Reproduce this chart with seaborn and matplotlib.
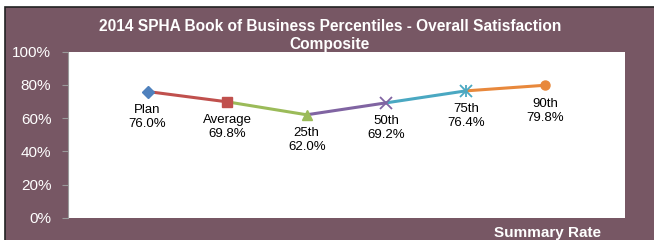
import matplotlib
matplotlib.use("Agg")
import matplotlib.pyplot as plt
import seaborn as sns
import pandas as pd
from matplotlib.patches import Rectangle

# ------------------------------------------------------------
# DATA
# ------------------------------------------------------------
categories = ["Plan", "Average", "25th", "50th", "75th", "90th"]
values = [76.0, 69.8, 62.0, 69.2, 76.4, 79.8]
colors = ["#4f81bd", "#c0504d", "#9bbb59", "#8064a2", "#4aa8c2", "#e8883c"]
markers = ["D", "s", "^", "x", "asterisk", "o"]
y_ticks = [0, 20, 40, 60, 80, 100]

df = pd.DataFrame({"pos": range(1, len(categories) + 1),
                   "label": categories, "value": values})

BG = "#775764"

sns.set_theme(style="white")
plt.rcParams["font.family"] = ["Liberation Sans", "DejaVu Sans"]

fig = plt.figure(figsize=(6.54, 2.4), dpi=100, facecolor="white")
fig.patches.append(Rectangle((5 / 654, -0.1), 1.2, (240 - 6.5) / 240 + 0.1,
                             transform=fig.transFigure, facecolor=BG,
                             edgecolor="#222222", linewidth=1.2, zorder=-10))

ax = fig.add_axes([68 / 654, (240 - 217.7) / 240, 557 / 654, 166 / 240])
ax.set_facecolor("white")
ax.set_zorder(1)

# segments, each coloured like the point it ends at
for i in range(1, len(df)):
    seg = df.iloc[i - 1:i + 1]
    sns.lineplot(data=seg, x="pos", y="value", color=colors[i],
                 linewidth=2.2, ax=ax, zorder=2)

# markers + labels
for i, row in df.iterrows():
    m = markers[i]
    if m == "asterisk":
        # excel style star: x with a vertical bar
        for mk in ("x", "|"):
            ax.plot(row["pos"], row["value"], marker=mk, color=colors[i],
                    markersize=8, markeredgewidth=1.3, linestyle="none", zorder=3)
    else:
        ax.plot(row["pos"], row["value"], marker=m, color=colors[i],
                markersize=8 if m == "x" else 6.5,
                markeredgewidth=1.3 if m == "x" else 1,
                linestyle="none", zorder=3)
    ax.annotate(f"{row['label']}\n{row['value']:.1f}%",
                (row["pos"], row["value"]), xytext=(0, -9),
                textcoords="offset points", ha="center", va="top",
                fontsize=9.5, color="black", linespacing=1.22)

ax.set_xlim(0, 7)
ax.set_ylim(0, 100)
ax.set_xticks([])
ax.set_yticks(y_ticks)
ax.set_yticklabels([f"{t}%" for t in y_ticks], color="white", fontsize=11)
ax.tick_params(axis="y", length=4, color="#9a9a9a", width=0.8, pad=8, left=True)
ax.set_xlabel("")
ax.set_ylabel("")
for s in ["top", "right", "bottom"]:
    ax.spines[s].set_visible(False)
ax.spines["left"].set_color("#9a9a9a")
ax.spines["left"].set_linewidth(0.8)

fig.text(330 / 654, 1 - 35.5 / 240,
         "2014 SPHA Book of Business Percentiles - Overall Satisfaction\nComposite",
         ha="center", va="center", color="white", fontsize=11.2, fontweight="bold",
         linespacing=1.25, zorder=5)
fig.text(601 / 654, 1 - 233 / 240, "Summary Rate", ha="right", va="center",
         color="white", fontsize=11, fontweight="bold", zorder=5)

fig.savefig("out.png", dpi=100, facecolor=fig.get_facecolor())
